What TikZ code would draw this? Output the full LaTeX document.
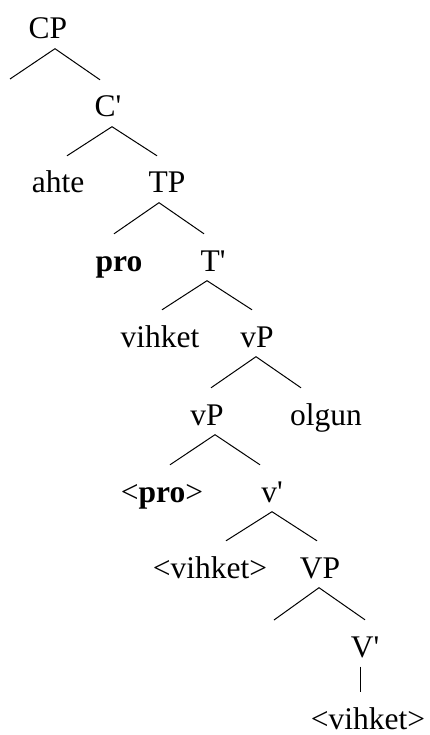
\documentclass[tikz,border=0pt]{standalone}
\usepackage{fontspec}
\setmainfont{Liberation Serif}
\usepackage{tikz}
\usetikzlibrary{positioning,calc}
\newcommand{\prm}{\textquotesingle}

\tikzset{
    lab/.style={anchor=base, inner sep=0pt, text height=37pt, text depth=9.5pt,
        font=\fontsize{31.5}{36}\selectfont},
    branch/.style={line width=1pt, black}
}

\begin{document}
\begin{tikzpicture}[x=1pt, y=-1pt]
    \useasboundingbox (0,0) rectangle (429,735);
    % labels
    \node[lab] (cp) at (48,39) {CP};
    \node[lab] (cbar) at (108,117) {C\prm};
    \node[lab] (ahte) at (58,193) {ahte};
    \node[lab] (tp) at (167,193) {TP};
    \node[lab] (pro) at (119,271) {\textbf{pro}};
    \node[lab] (tbar) at (213,271) {T\prm};
    \node[lab] (vihket) at (160,347) {vihket};
    \node[lab] (vp) at (257,347) {vP};
    \node[lab] (vpin) at (207,425) {vP};
    \node[lab] (olgun) at (326,425) {olgun};
    \node[lab] (protr) at (162,502) {<\textbf{pro}>};
    \node[lab] (vbar) at (272,502) {v\prm};
    \node[lab] (vihkettr) at (210,578) {<vihket>};
    \node[lab] (bigvp) at (320,578) {VP};
    \node[lab] (bigvbar) at (365,657) {V\prm};
    \node[lab] (vihketlow) at (368,729) {<vihket>};
    % empty specifier / complement ends
    \coordinate (cpspec) at (10,79);
    \coordinate (vpspec) at (274,620);
    % branches
    \draw[branch] (cpspec) -- ([xshift=7pt]cp.south) -- ([xshift=-8pt]cbar.north);
    \draw[branch] ([xshift=9pt]ahte.north) -- ([xshift=4pt]cbar.south) -- ([xshift=-10pt]tp.north);
    \draw[branch] ([xshift=-5pt]pro.north) -- ([xshift=-8pt]tp.south) -- ([xshift=-9pt]tbar.north);
    \draw[branch] ([xshift=2pt]vihket.north) -- ([xshift=-6pt]tbar.south) -- ([xshift=-5pt]vp.north);
    \draw[branch] ([xshift=4pt]vpin.north) -- ([xshift=-1pt]vp.south) -- ([xshift=-25pt]olgun.north);
    \draw[branch] ([xshift=8pt]protr.north) -- ([xshift=8pt]vpin.south) -- ([xshift=-12pt]vbar.north);
    \draw[branch] ([xshift=16pt]vihkettr.north) -- (vbar.south) -- ([xshift=-3pt]bigvp.north);
    \draw[branch] (vpspec) -- ([xshift=-1pt]bigvp.south) -- (bigvbar.north);
    \draw[branch] ([xshift=-5pt]bigvbar.south) -- ([xshift=-8pt]vihketlow.north);
\end{tikzpicture}
\end{document}
